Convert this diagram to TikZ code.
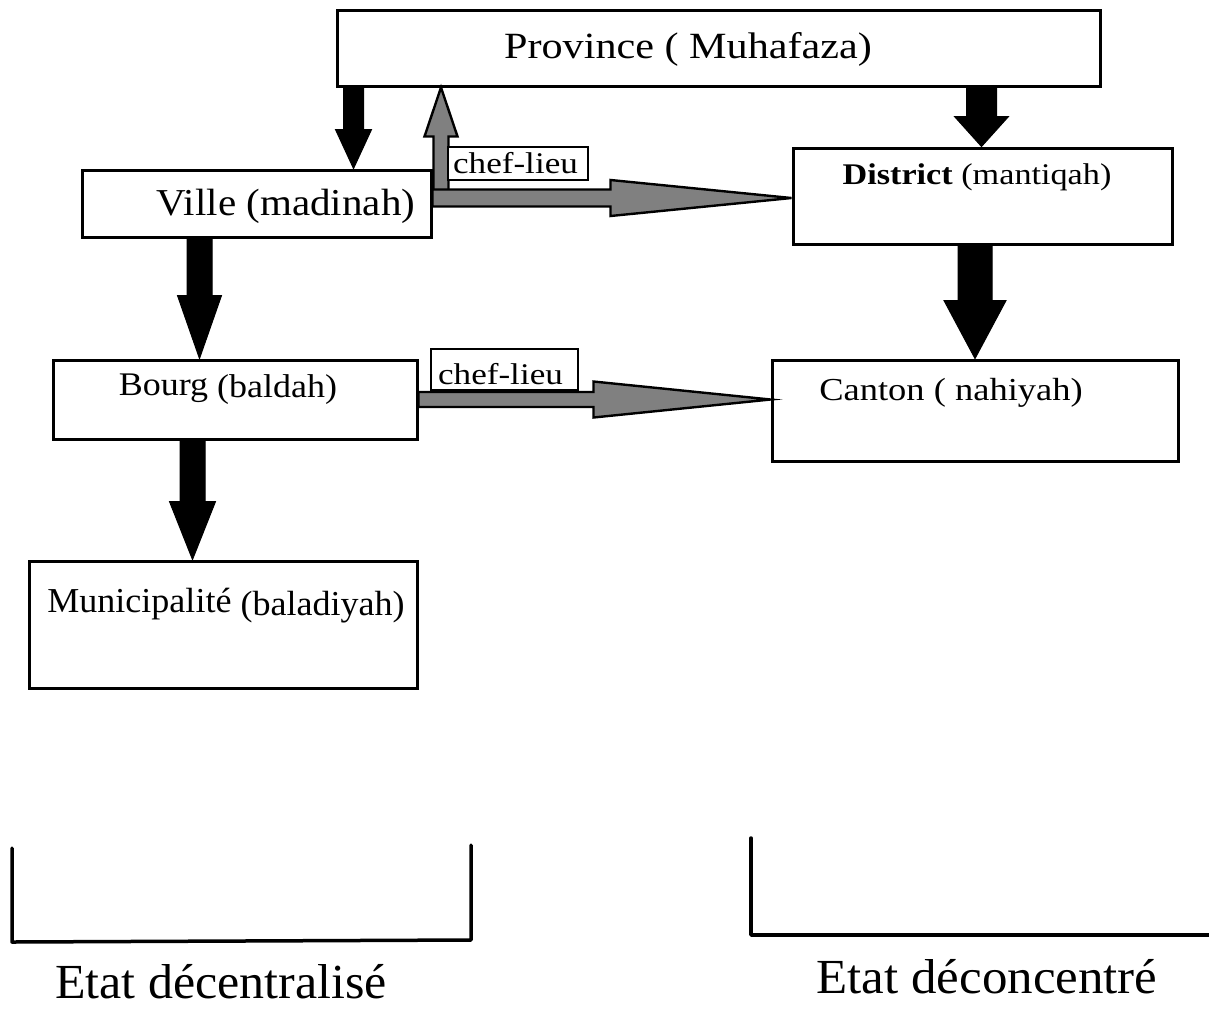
\documentclass[tikz,border=0pt]{standalone}
\usepackage{fontspec}
\setmainfont{Liberation Serif}
\usepackage{graphicx}
\usetikzlibrary{calc}

\definecolor{arrowgray}{RGB}{128,128,128}

\tikzset{
  box/.style={draw=black, line width=3pt, fill=white, inner sep=0pt, rectangle},
  lbl/.style={inner sep=0pt, anchor=base},
  tag/.style={draw=black, line width=2.6pt, fill=white, inner sep=0pt, rectangle},
  solidarrow/.style={fill=black, draw=black, line width=1pt, line join=miter},
  grayarrow/.style={fill=arrowgray, draw=black, line width=2.4pt, line join=miter},
  bracket/.style={draw=black, line width=3.5pt, line cap=round, line join=round},
}

% text at a given size, widened horizontally by a factor
\newcommand\txt[3]{\fontsize{#1}{#1}\selectfont\scalebox{#2}[1]{#3}}

% block arrows: style, start, tip, shaft half width, head half width, head length
\newcommand\downblock[6]{%
  \path[#1] let \p1=#2, \p2=#3 in
    ({\x1-#4pt},{\y1}) -- ({\x1+#4pt},{\y1}) -- ({\x1+#4pt},{\y2+#6pt})
    -- ({\x1+#5pt},{\y2+#6pt}) -- ({\x1},{\y2}) -- ({\x1-#5pt},{\y2+#6pt})
    -- ({\x1-#4pt},{\y2+#6pt}) -- cycle;}
\newcommand\upblock[6]{%
  \path[#1] let \p1=#2, \p2=#3 in
    ({\x1-#4pt},{\y1}) -- ({\x1+#4pt},{\y1}) -- ({\x1+#4pt},{\y2-#6pt})
    -- ({\x1+#5pt},{\y2-#6pt}) -- ({\x1},{\y2}) -- ({\x1-#5pt},{\y2-#6pt})
    -- ({\x1-#4pt},{\y2-#6pt}) -- cycle;}
\newcommand\rightblock[6]{%
  \path[#1] let \p1=#2, \p2=#3 in
    ({\x1},{\y1+#4pt}) -- ({\x2-#6pt},{\y1+#4pt}) -- ({\x2-#6pt},{\y1+#5pt})
    -- ({\x2},{\y1}) -- ({\x2-#6pt},{\y1-#5pt}) -- ({\x2-#6pt},{\y1-#4pt})
    -- ({\x1},{\y1-#4pt}) -- cycle;}

\begin{document}
\begin{tikzpicture}[x=1pt, y=-1pt]
\useasboundingbox[fill=white] (0,0) rectangle (1209,1010);

% administrative units
\node[box, minimum width=763pt, minimum height=76pt]  (prov) at (718.5,48)  {};
\node[box, minimum width=349pt, minimum height=67pt]  (vil)  at (256.5,203.5) {};
\node[box, minimum width=379pt, minimum height=96pt]  (dis)  at (982.5,196) {};
\node[box, minimum width=364pt, minimum height=79pt]  (bou)  at (235,399.5) {};
\node[box, minimum width=406pt, minimum height=101pt] (can)  at (975,410.5) {};
\node[box, minimum width=388pt, minimum height=127pt] (mun)  at (223,624.5) {};

\node[lbl] (prov-t) at (688,58)  {\txt{37}{1.14}{Province ( Muhafaza)}};
\node[lbl] (vil-t)  at (286,215) {\txt{38}{1.08}{Ville (madinah)}};
\node[lbl] (dis-t)  at (977,184) {\txt{30}{1.14}{\textbf{District} (mantiqah)}};
\node[lbl] (bou-t)  at (228,395) {\txt{33}{1.09}{Bourg \raisebox{-2pt}{(baldah)}}};
\node[lbl] (can-t)  at (951,400) {\txt{32}{1.14}{Canton ( nahiyah)}};
\node[lbl] (mun-t)  at (226,612) {\txt{35}{1.03}{Municipalité \raisebox{-3pt}{(baladiyah)}}};

% hierarchy (black block arrows)
\downblock{solidarrow}{($(prov.south west)+(18,0)$)}{(vil.north)}{10}{18}{39}
\downblock{solidarrow}{($(prov.south east)+(-120,0)$)}{(dis.north)}{15}{27}{30}
\downblock{solidarrow}{($(dis.south)+(-7.5,0)$)}{(can.north)}{17}{31}{58}
\downblock{solidarrow}{($(vil.south west)+(119,0)$)}{(bou.north)}{12.5}{22}{63}
\downblock{solidarrow}{($(bou.south west)+(141,0)$)}{(mun.north)}{12.5}{23}{58}

% seat relations (grey block arrows)
\upblock{grayarrow}{($(vil.east)+(8.5,-12)$)}{(prov.south)}{7.5}{16.5}{49}
\rightblock{grayarrow}{($(vil.east)+(0,-5.5)$)}{(dis.west)}{8.5}{18}{181}
\rightblock{grayarrow}{(bou.east)}{(can.west)}{7.5}{18}{177}

% "chef-lieu" tags
\node[tag, minimum width=140pt, minimum height=33pt] (tag1) at (518,163.5) {};
\node[lbl] (tag1-t) at (515.5,173.5) {\txt{30}{1.17}{chef-lieu}};
\node[tag, minimum width=147pt, minimum height=41pt] (tag2) at (504.5,369.5) {};
\node[lbl] (tag2-t) at (500.5,384.5) {\txt{30}{1.17}{chef-lieu}};

% brackets and captions
\coordinate (l1) at (12,848);
\coordinate (l2) at (12,942);
\coordinate (l3) at (471,940);
\coordinate (l4) at (471,845);
\draw[bracket] (l1) -- (l2) -- (l3) -- (l4);
\coordinate (r1) at (751,838);
\coordinate (r2) at (751,935);
\coordinate (r3) at (1209,935);
\draw[bracket] (r1) -- (r2) -- (r3);

\node[lbl] (dec)  at (221,998) {\txt{49}{1.02}{Etat décentralisé}};
\node[lbl] (deco) at (987,993) {\txt{49}{1.04}{Etat déconcentré}};
\end{tikzpicture}
\end{document}
